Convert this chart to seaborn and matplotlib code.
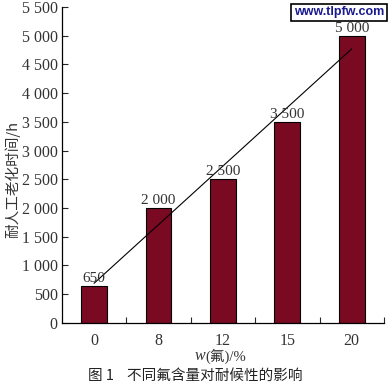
import numpy as np
import pandas as pd
import matplotlib
matplotlib.use("Agg")
import matplotlib.pyplot as plt
import seaborn as sns

# data
fluorine = ["0", "8", "12", "15", "20"]
hours = [650, 2000, 2500, 3500, 5000]
bar_labels = ["650", "2 000", "2 500", "3 500", "5 000"]
y_ticks = list(range(0, 5501, 500))
y_tick_labels = ["0", "500", "1 000", "1 500", "2 000", "2 500", "3 000",
                 "3 500", "4 000", "4 500", "5 000", "5 500"]

df = pd.DataFrame({"w": fluorine, "time": hours, "pos": np.arange(len(fluorine))})

sns.set_style("ticks")
plt.rcParams["font.family"] = ["Liberation Serif", "Noto Sans CJK SC", "DejaVu Sans"]

fig = plt.figure(figsize=(3.89, 3.84), dpi=100)
ax = fig.add_axes([0.159, 0.159, 0.828, 0.823])

sns.barplot(data=df, x="w", y="time", color="#7a0a22", width=0.4,
            edgecolor="black", linewidth=0.8, saturation=1, ax=ax)
sns.regplot(data=df, x="pos", y="time", scatter=False, ci=None, truncate=True,
            line_kws={"color": "black", "lw": 0.8}, ax=ax)

for i, lab in enumerate(bar_labels):
    ax.text(i, hours[i] + 15, lab, ha="center", va="bottom", fontsize=11,
            color="#333333")

ax.set_xlim(-0.5, 4.5)
ax.set_ylim(0, 5500)
ax.set_yticks(y_ticks)
ax.set_yticklabels(y_tick_labels, fontsize=11.5, color="#333333")
ax.set_xticks(range(len(fluorine)))
ax.set_xticklabels(fluorine, fontsize=11.5, color="#333333")
ax.set_xticks([0.5, 1.5, 2.5, 3.5, 4.5], minor=True)
ax.tick_params(axis="x", which="major", length=0, pad=7)
ax.tick_params(axis="x", which="minor", direction="in", length=4, width=0.8)
ax.tick_params(axis="y", direction="in", length=4, width=0.8, pad=3)

ax.set_xlabel("")
ax.set_ylabel("")
for s in ["top", "right"]:
    ax.spines[s].set_visible(False)
for s in ["left", "bottom"]:
    ax.spines[s].set_linewidth(0.9)
    ax.spines[s].set_color("black")

fig.text(12 / 389, 1 - 180 / 384, "耐人工老化时间/h", rotation=90, ha="center",
         va="center", fontsize=10.5, family=["Noto Sans CJK SC"], color="#333333")
fig.text(205 / 389, 1 - 356 / 384, "w", ha="right", va="center", fontsize=11.5,
         style="italic", color="#333333")
fig.text(205 / 389, 1 - 356 / 384, "(氟)/%", ha="left", va="center",
         fontsize=10.5, family=["Liberation Serif", "Noto Sans CJK SC"],
         color="#333333")
fig.text(195 / 389, 1 - 376 / 384, "图 1    不同氟含量对耐候性的影响", ha="center",
         va="center", fontsize=10.5, family=["Noto Sans CJK SC"], color="#222222")
fig.text(339 / 389, 1 - 12 / 384, "www.tlpfw.com", ha="center", va="center",
         fontsize=9, fontweight="bold", family=["Liberation Sans"], color="#1a1a90",
         bbox=dict(boxstyle="square,pad=0.2", fc="white", ec="black", lw=1.2))

fig.savefig("out.png", dpi=100)
